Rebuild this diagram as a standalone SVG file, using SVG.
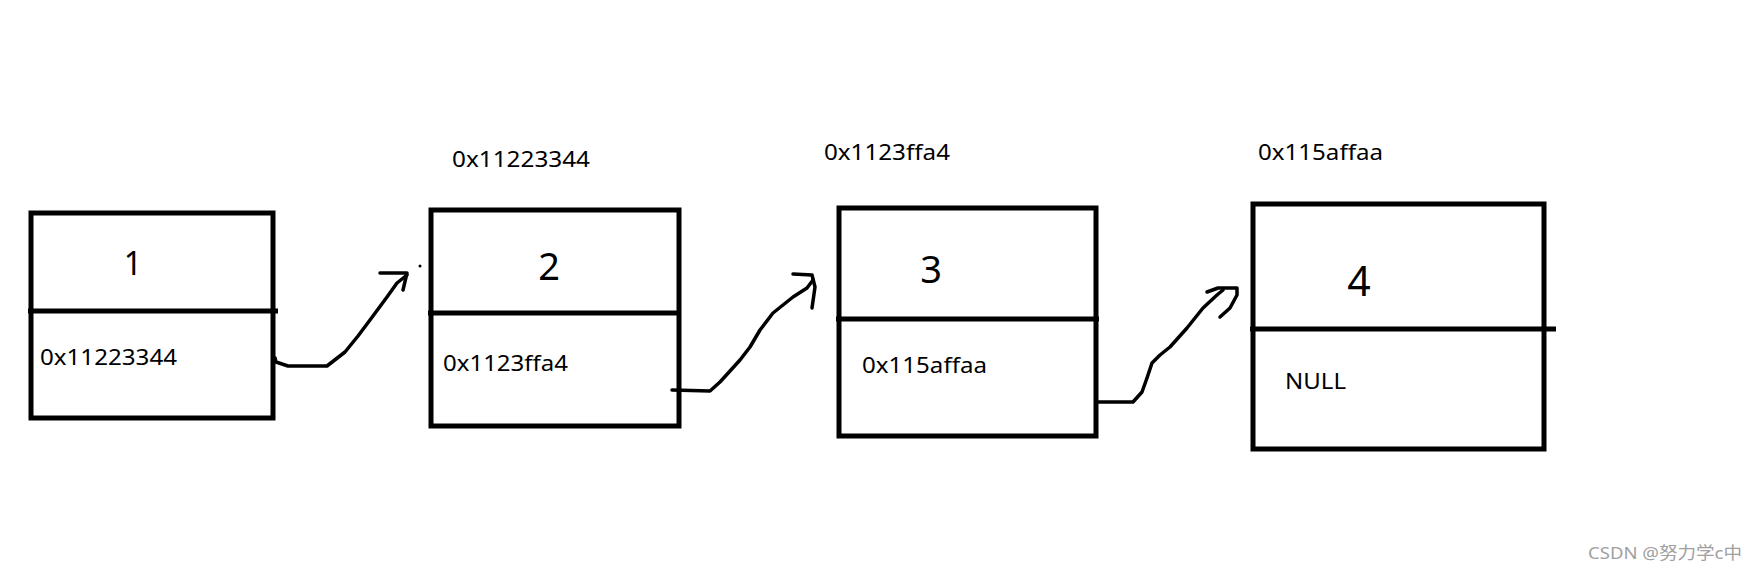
<svg xmlns="http://www.w3.org/2000/svg" width="1756" height="573" viewBox="0 0 1756 573">
<style>
.box{fill:none;stroke:#000;stroke-width:5}
.div{stroke:#000;stroke-width:5}
.val{font-family:"Noto Sans","Liberation Sans",sans-serif;fill:#000;text-anchor:middle}
.addr{font-family:"Noto Sans","Liberation Sans",sans-serif;font-size:21px;fill:#000}
.wire{fill:none;stroke:#000;stroke-width:3.5;stroke-linejoin:round;stroke-linecap:round}
.wm{font-family:"Noto Sans","Liberation Sans","Noto Sans CJK SC",sans-serif;font-size:17px;fill:#a0a0a0}
</style>
<rect width="1756" height="573" fill="#fff"/>
<g id="node1">
<rect class="box" x="31" y="213" width="242" height="205"/>
<line class="div" x1="28" y1="311" x2="278" y2="311"/>
<text class="val" x="133" y="275" font-size="32">1</text>
<text class="addr" x="40" y="365" textLength="137" lengthAdjust="spacingAndGlyphs">0x11223344</text>
</g>
<g id="node2">
<text class="addr" x="452" y="167" textLength="138" lengthAdjust="spacingAndGlyphs">0x11223344</text>
<rect class="box" x="431" y="210" width="248" height="216"/>
<line class="div" x1="428" y1="313" x2="681" y2="313"/>
<text class="val" x="549" y="280" font-size="38">2</text>
<text class="addr" x="443" y="371" textLength="125" lengthAdjust="spacingAndGlyphs">0x1123ffa4</text>
</g>
<g id="node3">
<text class="addr" x="824" y="160" textLength="126" lengthAdjust="spacingAndGlyphs">0x1123ffa4</text>
<rect class="box" x="839" y="208" width="257" height="228"/>
<line class="div" x1="836" y1="319" x2="1099" y2="319"/>
<text class="val" x="931" y="283" font-size="38">3</text>
<text class="addr" x="862" y="373" textLength="125" lengthAdjust="spacingAndGlyphs">0x115affaa</text>
</g>
<g id="node4">
<text class="addr" x="1258" y="160" textLength="125" lengthAdjust="spacingAndGlyphs">0x115affaa</text>
<rect class="box" x="1253" y="204" width="291" height="245"/>
<line class="div" x1="1250" y1="329" x2="1556" y2="329"/>
<text class="val" x="1359" y="296" font-size="41">4</text>
<text class="addr" x="1285" y="389" textLength="61" lengthAdjust="spacingAndGlyphs">NULL</text>
</g>
<g id="connectors">
<polyline class="wire" points="275,358 276,362 288,366 327,366 345,352 358,336 370,320 387,297 397,283 407,275"/>
<polyline class="wire" points="380,273 407,273 403,290"/>
<circle cx="420" cy="266" r="1.5" fill="#000"/>
<polyline class="wire" points="672,390 710,391 720,382 740,360 750,347 760,330 773,313 793,297 807,288 813,280"/>
<polyline class="wire" points="793,274 812,275 815,287 812,308"/>
<polyline class="wire" points="1097,402 1133,402 1142,392 1147,378 1152,363 1160,355 1170,347 1187,328 1203,308 1217,295 1223,290"/>
<polyline class="wire" points="1207,292 1218,288 1237,288 1237,295 1230,308 1220,317"/>
</g>
<text class="wm" x="1588" y="559" textLength="154" lengthAdjust="spacingAndGlyphs">CSDN @努力学c中</text>
</svg>
